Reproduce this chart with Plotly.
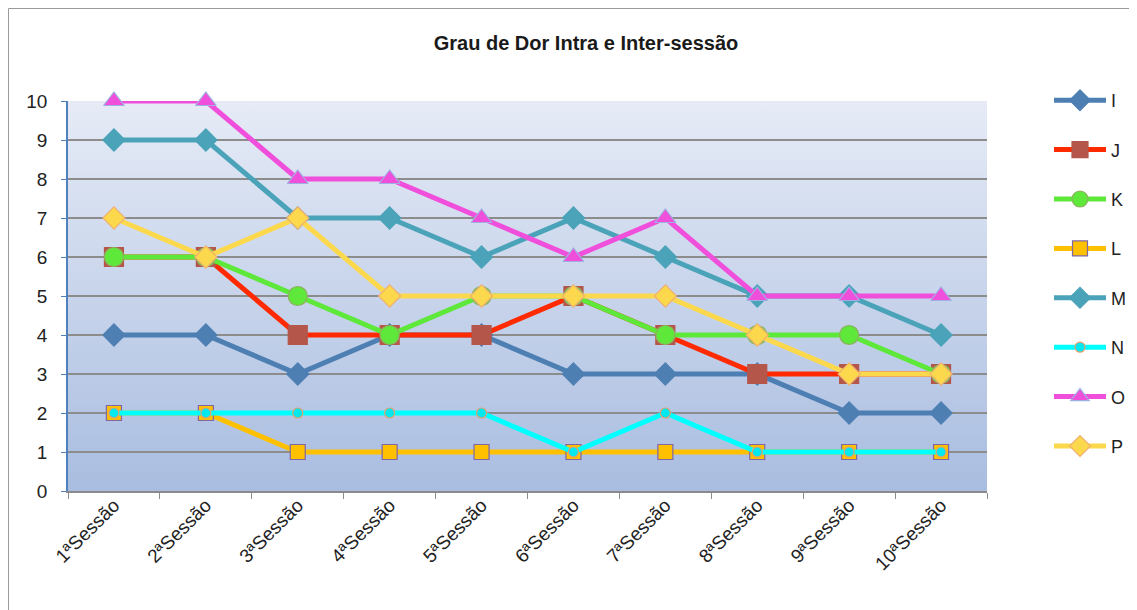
import base64
import plotly.graph_objects as go

categories = ["1ªSessão", "2ªSessão", "3ªSessão", "4ªSessão", "5ªSessão",
              "6ªSessão", "7ªSessão", "8ªSessão", "9ªSessão", "10ªSessão"]
I = [4, 4, 3, 4, 4, 3, 3, 3, 2, 2]
J = [6, 6, 4, 4, 4, 5, 4, 3, 3, 3]
K = [6, 6, 5, 4, 5, 5, 4, 4, 4, 3]
L = [2, 2, 1, 1, 1, 1, 1, 1, 1, 1]
M = [9, 9, 7, 7, 6, 7, 6, 5, 5, 4]
N = [2, 2, 2, 2, 2, 1, 2, 1, 1, 1]
O = [10, 10, 8, 8, 7, 6, 7, 5, 5, 5]
P = [7, 6, 7, 5, 5, 5, 5, 4, 3, 3]
y_ticks = list(range(0, 11))

series = [
    ("I", I, "#4e7fb3", "diamond", 17, "#4e7fb3", "#4e7fb3"),
    ("J", J, "#ff2a00", "square", 19, "#b5564a", "#b5564a"),
    ("K", K, "#5de83a", "circle", 19, "#5de83a", "#8fb060"),
    ("L", L, "#ffc000", "square", 15, "#ffc000", "#7f66a8"),
    ("M", M, "#4aa3b8", "diamond", 17, "#4aa3b8", "#4aa3b8"),
    ("N", N, "#00ffff", "circle", 10, "#00e8f0", "#e0a070"),
    ("O", O, "#f04fdc", "triangle-up", 18, "#f04fdc", "#9fb0e0"),
    ("P", P, "#fcd94c", "diamond", 17, "#fcd94c", "#f0b070"),
]

fig = go.Figure()
for name, vals, lc, sym, sz, mc, ml in series:
    fig.add_trace(go.Scatter(
        x=categories, y=vals, name=name, mode="lines+markers",
        legendgroup=name, cliponaxis=False,
        line=dict(color=lc, width=5),
        marker=dict(symbol=sym, size=sz, color=mc, line=dict(color=ml, width=1.2)),
    ))

# gradient background image for plot area
svg = ('<svg xmlns="http://www.w3.org/2000/svg" width="100" height="100" preserveAspectRatio="none">'
       '<defs><linearGradient id="g" x1="0" y1="0" x2="0" y2="1">'
       '<stop offset="0" stop-color="#e6ebf6"/><stop offset="1" stop-color="#a9bde0"/>'
       '</linearGradient></defs><rect width="100" height="100" fill="url(#g)"/></svg>')
src = "data:image/svg+xml;base64," + base64.b64encode(svg.encode()).decode()

# page has an 8px body margin; work in figure pixels
OFF = 8
W, H = 1137 - OFF, 610 - OFF
ml_, mt_ = 68 - OFF, 101 - OFF
pr, pb = 987 - OFF, 491 - OFF
mr_, mb_ = W - pr, H - pb
pw, ph = pr - ml_, pb - mt_
def px2x(px):
    return (px - OFF - ml_) / pw
def py2y(py):
    return (pb - (py - OFF)) / ph

shapes = [dict(type="rect", xref="paper", yref="paper", layer="above",
               x0=px2x(OFF + 0.5), x1=px2x(1180), y0=py2y(660), y1=py2y(OFF + 0.5),
               line=dict(color="#9a9a9a", width=1), fillcolor="rgba(0,0,0,0)")]

fig.update_layout(
    width=W, height=H,
    margin=dict(l=ml_, r=mr_, t=mt_, b=mb_, autoexpand=False),
    paper_bgcolor="white",
    plot_bgcolor="rgba(0,0,0,0)",
    font=dict(family="Liberation Sans, Arial, sans-serif", color="#222222"),
    title=dict(text="<b>Grau de Dor Intra e Inter-sessão</b>", x=(586 - OFF) / W,
               xanchor="center", y=1 - (43 - OFF) / H, yanchor="middle", yref="container",
               font=dict(size=20, color="#1a1a1a")),
    images=[dict(source=src, xref="paper", yref="paper", x=0, y=1, sizex=1, sizey=1,
                 xanchor="left", yanchor="top", sizing="stretch", layer="below")],
    shapes=shapes,
    showlegend=True,
    legend=dict(x=px2x(1049), y=py2y(82), xanchor="left", yanchor="top",
                font=dict(size=18, color="#222222"), tracegroupgap=23,
                itemwidth=52, bgcolor="rgba(0,0,0,0)", maxheight=600),
    xaxis=dict(type="category", range=[-0.5, 9.5], showgrid=False,
               tickangle=-45, tickfont=dict(size=19), ticks="outside",
               tickson="boundaries", ticklen=6, tickcolor="#8a8a8a",
               ticklabelstandoff=-6,
               showline=True, linecolor="#8a8a8a", linewidth=1.5),
    yaxis=dict(range=[0, 10], tickvals=y_ticks, tickfont=dict(size=19),
               showgrid=True, gridcolor="#8c8c8c", gridwidth=1.5,
               ticks="outside", ticklen=5, tickcolor="#4f81bd",
               ticklabelstandoff=10,
               showline=True, linecolor="#4f81bd", linewidth=1.5, zeroline=False),
)

fig.write_html("out.html")
